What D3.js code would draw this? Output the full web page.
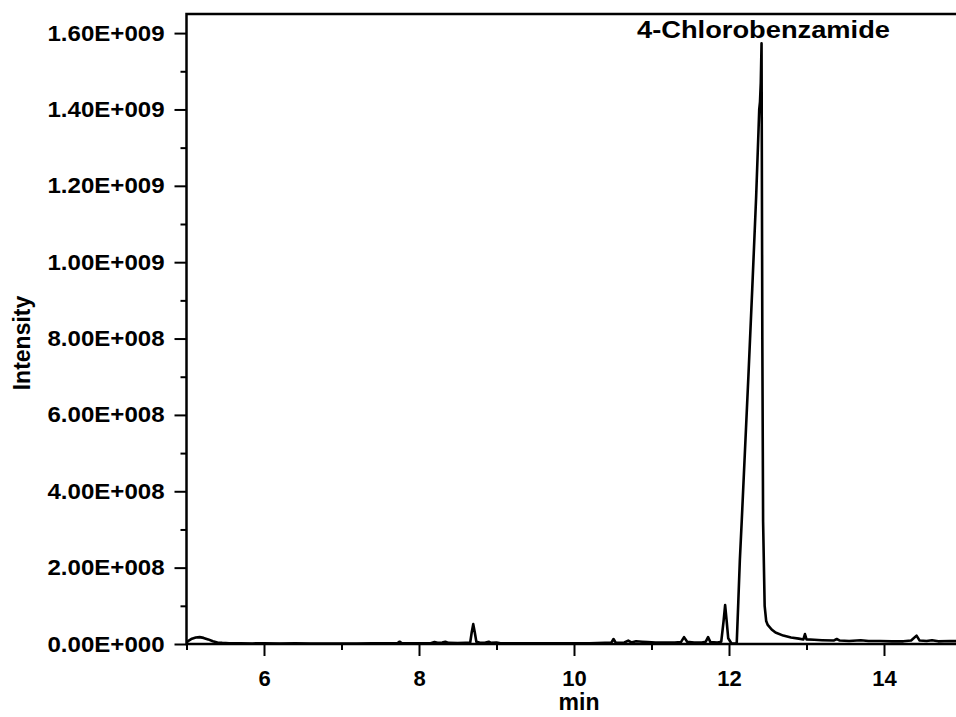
<!DOCTYPE html>
<html>
<head>
<meta charset="utf-8">
<script src="https://cdn.jsdelivr.net/npm/d3@7"></script>
<style>
  html, body { margin: 0; padding: 0; background: #fff; }
  svg { display: block; }
  text { font-family: "Liberation Sans", Arial, sans-serif; font-weight: bold; fill: #000; }
</style>
</head>
<body>
<svg id="chart" width="956" height="717"></svg>
<script>
// ---- data (retention time in min, intensity in units of 1e6) ----
const retentionTime = [
  5.00, 5.03, 5.07, 5.12, 5.17, 5.22, 5.28, 5.34, 5.40, 5.46, 5.55, 5.70, 5.85, 6.00, 6.20, 6.40, 6.60, 6.80,
  7.00, 7.20, 7.40, 7.60, 7.72, 7.75, 7.78, 7.95, 8.15, 8.20, 8.24, 8.30, 8.34, 8.38, 8.50, 8.60, 8.66, 8.68,
  8.70, 8.72, 8.74, 8.78, 8.85, 8.90, 8.93, 9.00, 9.05, 9.20, 9.40, 9.60, 9.80, 10.00, 10.20, 10.40, 10.48,
  10.51, 10.54, 10.65, 10.70, 10.74, 10.80, 10.88, 10.95, 11.05, 11.20, 11.30, 11.38, 11.42, 11.46, 11.55,
  11.65, 11.70, 11.73, 11.76, 11.85, 11.90, 11.93, 11.95, 11.97, 11.99, 12.03, 12.08, 12.10, 12.12, 12.14,
  12.165, 12.20, 12.25, 12.30, 12.35, 12.38, 12.39, 12.40, 12.41, 12.42, 12.43, 12.44, 12.46, 12.48, 12.50,
  12.55, 12.60, 12.70, 12.80, 12.90, 12.96, 12.98, 13.00, 13.10, 13.20, 13.35, 13.39, 13.43, 13.55, 13.70,
  13.80, 13.95, 14.10, 14.25, 14.35, 14.42, 14.46, 14.55, 14.62, 14.70, 14.85, 15.00
];
const intensityE6 = [
  4, 9, 14, 17, 18, 16, 12, 7, 4, 3, 2, 2, 1.5, 2, 1.5, 2, 1.5, 1.5,
  1.5, 1.5, 2, 2, 2, 6, 2, 2, 2, 5, 3, 4, 6, 3, 2.5, 3, 3, 30,
  52, 30, 6, 4, 3, 6, 3, 4, 2, 2, 2, 2, 2, 2, 2, 3, 3,
  13, 3, 4, 9, 4, 7, 6, 5, 4, 4, 4, 5, 18, 6, 4,
  4, 6, 18, 5, 4, 6, 60, 102, 60, 15, 2, 1, 3, 110, 220,
  325, 480, 700, 930, 1170, 1340, 1400, 1420, 1470, 1573, 800, 320, 100, 60, 50,
  38, 30, 22, 17, 14, 12, 26, 12, 11, 10, 9, 13, 9, 8, 10,
  8, 8, 7, 7, 9, 22, 9, 8, 10, 7, 8, 7
];
const yMajorTicks = [0, 2e8, 4e8, 6e8, 8e8, 1e9, 1.2e9, 1.4e9, 1.6e9];
const yMinorTicks = [1e8, 3e8, 5e8, 7e8, 9e8, 1.1e9, 1.3e9, 1.5e9];
const xMajorTicks = [6, 8, 10, 12, 14];
const xMinorTicks = [5, 7, 9, 11, 13, 15];
const peakLabel = "4-Chlorobenzamide";
const xTitle = "min";
const yTitle = "Intensity";

// ---- layout ----
const svg = d3.select("#chart");
const plotL = 186.5, plotR = 961.5, plotT = 14, plotB = 644;
const x = d3.scaleLinear().domain([5, 15]).range([plotL, plotR]);
const y = d3.scaleLinear().domain([0, 1.65e9]).range([plotB, plotT]);

function sciFmt(v) {
  if (v === 0) return "0.00E+000";
  const e = Math.floor(Math.log10(Math.abs(v)) + 1e-9);
  const m = v / Math.pow(10, e);
  return m.toFixed(2) + "E+" + String(e).padStart(3, "0");
}

// clip
svg.append("defs").append("clipPath").attr("id", "clip")
  .append("rect").attr("x", plotL).attr("y", plotT).attr("width", plotR - plotL).attr("height", plotB - plotT);

// data line
const pts = retentionTime.map((t, i) => [t, intensityE6[i] * 1e6]);
svg.append("path")
  .datum(pts)
  .attr("clip-path", "url(#clip)")
  .attr("fill", "none")
  .attr("stroke", "#000")
  .attr("stroke-width", 2.6)
  .attr("stroke-linejoin", "round")
  .attr("d", d3.line().x(d => x(d[0])).y(d => y(d[1])));

// axes
const yAxis = svg.append("g").attr("transform", `translate(${plotL},0)`)
  .call(d3.axisLeft(y).tickValues(yMajorTicks).tickFormat(sciFmt).tickSize(12).tickPadding(10));
const yMinor = svg.append("g").attr("transform", `translate(${plotL},0)`)
  .call(d3.axisLeft(y).tickValues(yMinorTicks).tickFormat("").tickSize(6));
const xAxis = svg.append("g").attr("transform", `translate(0,${plotB})`)
  .call(d3.axisBottom(x).tickValues(xMajorTicks).tickFormat(d3.format("d")).tickSize(12).tickPadding(14));
const xMinor = svg.append("g").attr("transform", `translate(0,${plotB})`)
  .call(d3.axisBottom(x).tickValues(xMinorTicks).tickFormat("").tickSize(6));

[yAxis, yMinor, xAxis, xMinor].forEach(g => {
  g.select(".domain").remove();
  g.selectAll(".tick line").attr("stroke", "#000").attr("stroke-width", 2);
});
[yAxis, xAxis].forEach(g => g.selectAll(".tick text")
  .style("font-size", "22px")
  .style("font-family", "'Liberation Sans', Arial, sans-serif")
  .style("font-weight", "bold")
  .attr("fill", "#000"));
yAxis.selectAll(".tick text")
  .attr("textLength", 117)
  .attr("lengthAdjust", "spacingAndGlyphs");

// frame (left, bottom, top spines; right spine falls outside the canvas)
svg.append("rect")
  .attr("x", plotL).attr("y", plotT)
  .attr("width", plotR - plotL).attr("height", plotB - plotT)
  .attr("fill", "none").attr("stroke", "#000").attr("stroke-width", 2.5);

// titles
svg.append("text")
  .attr("x", 579).attr("y", 710)
  .attr("text-anchor", "middle")
  .style("font-size", "23px")
  .text(xTitle);

svg.append("text")
  .attr("transform", `translate(30,343) rotate(-90)`)
  .attr("text-anchor", "middle")
  .style("font-size", "23px")
  .text(yTitle);

svg.append("text")
  .attr("x", 637).attr("y", 38)
  .style("font-size", "24px")
  .attr("textLength", 253)
  .attr("lengthAdjust", "spacingAndGlyphs")
  .text(peakLabel);
</script>
</body>
</html>
